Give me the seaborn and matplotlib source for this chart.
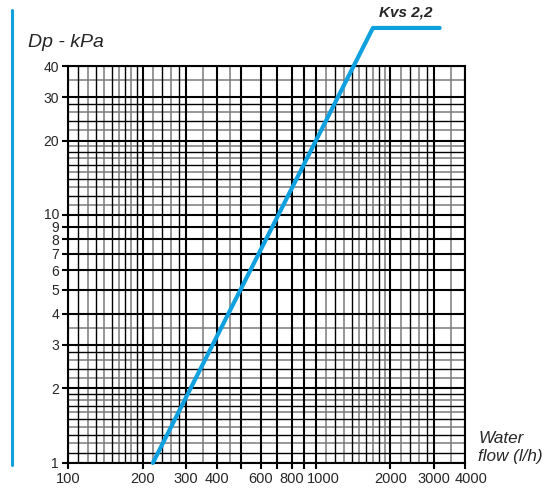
import seaborn as sns
import matplotlib.pyplot as plt
from matplotlib.lines import Line2D
from matplotlib.ticker import NullLocator, NullFormatter
from matplotlib.transforms import ScaledTranslation

# Kvs 2,2 curve (l/h, kPa), incl. the leader going out to the label
flow = [220, 1700, 3160]
dp = [1, 57, 57]

x_major = [100, 200, 300, 400, 500, 600, 700, 800, 900, 1000, 2000, 3000, 4000]
x_labels = {100: '100', 200: '200', 300: '300', 400: '400', 600: '600', 800: '800',
            1000: '1000', 2000: '2000', 3000: '3000', 4000: '4000'}
x_minor_dark = [110, 130, 150, 170, 190, 240, 280, 1200, 1400, 1600, 1800, 2400, 2800]
x_minor_light = [120, 140, 160, 180, 220, 260, 350, 450, 1100, 1300, 1500, 1700, 1900,
                 2200, 2600, 3500]

y_major = [1, 2, 3, 4, 5, 6, 7, 8, 9, 10, 20, 30, 40]
y_minor_dark = [1.1, 1.3, 1.5, 1.7, 1.9, 2.4, 2.8, 12, 14, 16, 18, 24, 28]
y_minor_light = [1.2, 1.4, 1.6, 1.8, 2.2, 2.6, 3.5, 11, 13, 15, 17, 19, 22, 26, 35]

blue = '#0fa0e0'

sns.set_style('white')
plt.rcParams['font.family'] = ['Liberation Sans', 'DejaVu Sans']

fig = plt.figure(figsize=(5.52, 4.93), dpi=100)
ax = fig.add_axes([0.1232, 0.0609, 0.7192, 0.8051])
ax.set_xscale('log')
ax.set_yscale('log')
ax.set_xlim(100, 4000)
ax.set_ylim(1, 40)

# grid
for v in x_minor_light:
    ax.axvline(v, color='#7a7a7a', lw=1.1, zorder=1)
for v in y_minor_light:
    ax.axhline(v, color='#7a7a7a', lw=1.1, zorder=1)
for v in x_minor_dark:
    ax.axvline(v, color='black', lw=1.0, zorder=2)
for v in y_minor_dark:
    ax.axhline(v, color='black', lw=1.0, zorder=2)
for v in x_major:
    ax.axvline(v, color='black', lw=1.5, zorder=3)
for v in y_major:
    ax.axhline(v, color='black', lw=1.5, zorder=3)

sns.lineplot(x=flow, y=dp, ax=ax, color=blue, lw=3, clip_on=False, zorder=5,
             solid_capstyle='round')

ax.set_xticks(x_major)
ax.set_xticklabels([x_labels.get(v, '') for v in x_major])
ax.xaxis.set_minor_locator(NullLocator())
ax.xaxis.set_minor_formatter(NullFormatter())
ax.set_yticks(y_major)
ax.set_yticklabels([str(v) for v in y_major])
ax.yaxis.set_minor_locator(NullLocator())
ax.yaxis.set_minor_formatter(NullFormatter())
ax.tick_params(axis='both', direction='out', length=4.5, width=1.5, color='black',
               pad=2, bottom=True, left=True)
ax.tick_params(axis='x', labelsize=10.5)
ax.tick_params(axis='y', labelsize=10)

# nudge crowded labels apart, as in the original
for lab, v in zip(ax.get_xticklabels(), x_major):
    if v in (1000, 4000):
        shift = 8 if v == 1000 else 6
        lab.set_transform(lab.get_transform() + ScaledTranslation(shift / 100, 0, fig.dpi_scale_trans))
for lab, v in zip(ax.get_yticklabels(), y_major):
    if v == 10:
        lab.set_transform(lab.get_transform() + ScaledTranslation(0, 2.2 / 100, fig.dpi_scale_trans))

for s in ax.spines.values():
    s.set_color('black')
    s.set_linewidth(1.5)

ax.text(0.85, 1.136, 'Kvs 2,2', transform=ax.transAxes, ha='center', va='center',
        fontsize=11, fontweight='bold', fontstyle='italic', clip_on=False)
fig.text(0.05, 0.913, 'Dp - kPa', ha='left', va='center', fontsize=14, fontstyle='italic')
fig.text(0.866, 0.0923, 'Water\nflow (l/h)', ha='left', va='center', fontsize=12.3,
         fontstyle='italic', linespacing=1.24)

fig.add_artist(Line2D([0.0217, 0.0217], [1 - 465 / 493, 1 - 10 / 493],
                      transform=fig.transFigure, color=blue, lw=2.2))

fig.savefig('out.png', dpi=100)
